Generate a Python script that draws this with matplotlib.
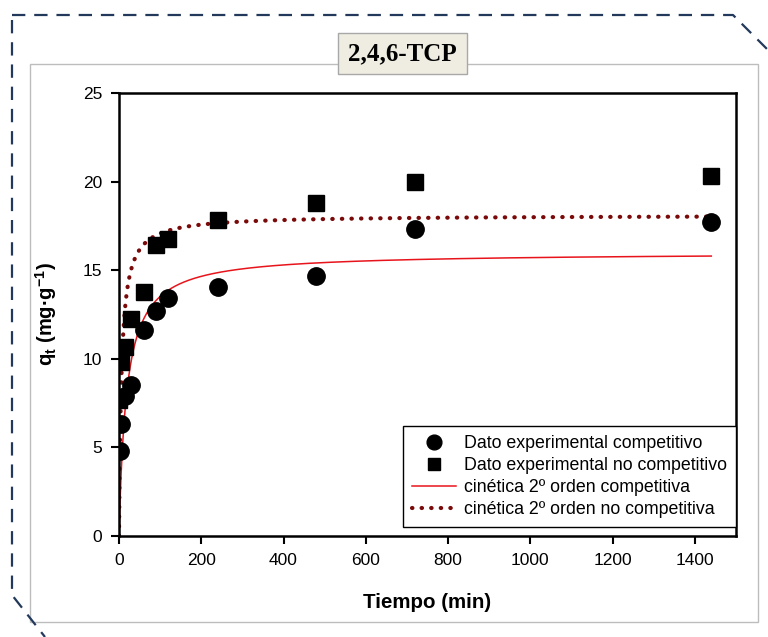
import numpy as np
import matplotlib
matplotlib.use("Agg")
import matplotlib.pyplot as plt
from matplotlib.patches import Rectangle
from matplotlib.lines import Line2D

plt.rcParams["font.family"] = ["Liberation Sans", "DejaVu Sans"]
plt.rcParams["mathtext.fontset"] = "custom"
plt.rcParams["mathtext.rm"] = "Liberation Sans"
plt.rcParams["mathtext.bf"] = "Liberation Sans:bold"
plt.rcParams["mathtext.it"] = "Liberation Sans:italic"

# Experimental data: time (min) vs adsorbed amount q_t (mg/g)
t_comp = [2, 5, 15, 30, 60, 90, 120, 240, 480, 720, 1440]
q_comp = [4.8, 6.3, 7.9, 8.5, 11.6, 12.7, 13.45, 14.05, 14.65, 17.35, 17.7]

t_nocomp = [0, 5, 15, 30, 60, 90, 120, 240, 480, 720, 1440]
q_nocomp = [7.7, 9.8, 10.65, 12.25, 13.75, 16.45, 16.75, 17.85, 18.8, 20.0, 20.3]

# Pseudo-second-order fitted parameters (qe in mg/g, k2 in g/(mg·min))
qe_comp, k2_comp = 16.0, 0.0034
qe_nocomp, k2_nocomp = 18.1, 0.0092

x_ticks = [0, 200, 400, 600, 800, 1000, 1200, 1400]
y_ticks = [0, 5, 10, 15, 20, 25]


def pso(t, qe, k2):
    return qe * qe * k2 * t / (1.0 + qe * k2 * t)


t_fit = np.linspace(0, 1440, 2000)

fig = plt.figure(figsize=(7.68, 6.37), dpi=100)

W, H = 768.0, 637.0

def fx(px):
    return px / W

def fy(py):
    return 1.0 - py / H

# Outer dashed navy frame with clipped corners
frame_col = "#23395B"
fig.add_artist(Line2D([fx(12), fx(12), fx(45)], [fy(20), fy(595), fy(637)],
                      color=frame_col, lw=1.6, ls=(0, (6, 4)), transform=fig.transFigure))
fig.add_artist(Line2D([fx(12), fx(733), fx(768)], [fy(15), fy(15), fy(50)],
                      color=frame_col, lw=1.6, ls=(0, (6, 4)), transform=fig.transFigure))

# Inner light grey panel
fig.add_artist(Rectangle((fx(30), fy(622)), fx(758) - fx(30), fy(64) - fy(622),
                         transform=fig.transFigure, fill=False, ec="#BDBDBD", lw=1.0))

ax = fig.add_axes([fx(119), fy(536), fx(736) - fx(119), fy(93) - fy(536)])

ax.plot(t_fit, pso(t_fit, qe_comp, k2_comp), color="#E8141C", lw=1.1,
        label="cinética 2º orden competitiva", zorder=2)
ax.plot(t_fit, pso(t_fit, qe_nocomp, k2_nocomp), color="#7A0A0A", lw=3.0,
        ls=(0, (0.1, 2.2)), dash_capstyle="round",
        label="cinética 2º orden no competitiva", zorder=2)
ax.plot(t_comp, q_comp, "o", color="black", ms=12.5, ls="none",
        label="Dato experimental competitivo", zorder=3)
ax.plot(t_nocomp, q_nocomp, "s", color="black", ms=11, ls="none",
        label="Dato experimental no competitivo", zorder=3)

ax.set_xlim(0, 1500)
ax.set_ylim(0, 25)
ax.set_xticks(x_ticks)
ax.set_yticks(y_ticks)
ax.tick_params(direction="out", length=6, width=1.5, labelsize=12.5, pad=6)
for s in ax.spines.values():
    s.set_linewidth(1.8)

ax.set_xlabel("Tiempo (min)", fontsize=14.8, fontweight="bold", labelpad=18)
ax.set_ylabel(r"$\mathbf{q_t}$" + " (mg·g" + r"$^{\mathbf{-1}}$" + ")",
              fontsize=14.5, fontweight="bold", labelpad=17)

handles, labels = ax.get_legend_handles_labels()
order = [2, 3, 0, 1]
leg = ax.legend([handles[i] for i in order], [labels[i] for i in order],
                loc="lower right", bbox_to_anchor=(1.0, 0.02), fontsize=12.8,
                frameon=True, fancybox=False, edgecolor="black", framealpha=1,
                handlelength=2.5, handletextpad=0.45, borderpad=0.5, labelspacing=0.28,
                markerscale=0.85, borderaxespad=0.0)
leg.get_frame().set_linewidth(1.0)

# Title badge
fig.add_artist(Rectangle((fx(338), fy(74)), fx(467) - fx(338), fy(33) - fy(74),
                         transform=fig.transFigure, fc="#EFEDE2", ec="#A8A8A8", lw=1.0,
                         zorder=5))
fig.text(fx(402.5), fy(54), "2,4,6-TCP", ha="center", va="center", zorder=6,
         fontsize=18, fontweight="bold", family=["Liberation Serif", "DejaVu Serif"])

fig.savefig("out.png", dpi=100)
